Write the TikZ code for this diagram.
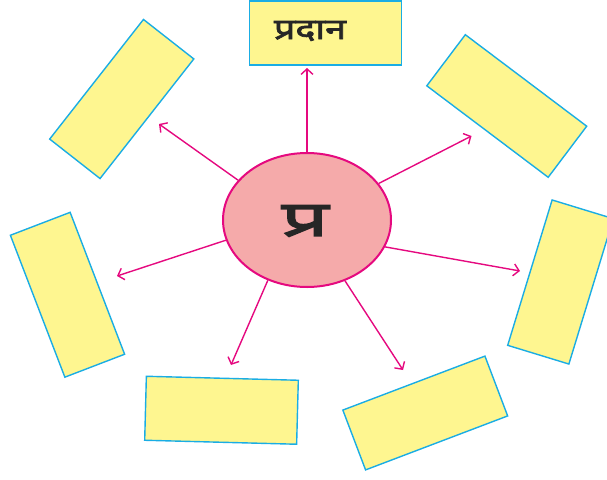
\documentclass[tikz,border=0pt]{standalone}
\usepackage{fontspec}
\newfontfamily\deva[Script=Devanagari,FakeBold=2.5,FakeStretch=1.3]{Noto Sans}
\newfontfamily\devawide[Script=Devanagari,FakeBold=3,FakeStretch=1.7]{Noto Sans}
\usetikzlibrary{arrows.meta,shapes.geometric}
\definecolor{boxfill}{HTML}{FEF690}
\definecolor{boxline}{HTML}{1AADE4}
\definecolor{ellfill}{HTML}{F5AAAA}
\definecolor{mag}{HTML}{E5097F}
\begin{document}
\begin{tikzpicture}[x=1pt,y=-1pt,
  ybox/.style={draw=boxline,fill=boxfill,line width=1.4pt,inner sep=0pt,outer sep=0pt,
    minimum width=152pt,minimum height=64pt},
  arr/.style={draw=mag,line width=1.4pt,-{Straight Barb[length=5.5pt,width=12pt,line width=1.4pt]}}]
\useasboundingbox (0,0) rectangle (607,479);
\clip (0,0) rectangle (607,479);
% boxes
\node[ybox] (btop) at (325.5,33) {};
\node[ybox,rotate=51.9] (btl) at (121.75,99) {};
\node[ybox,rotate=-37] (btr) at (506.75,106) {};
\node[ybox,rotate=-69] (bl) at (67.5,294.75) {};
\node[ybox,rotate=73] (br) at (560.5,282) {};
\node[ybox,rotate=-1.5] (bbl) at (221.5,410.25) {};
\node[ybox,rotate=20.8] (bbr) at (425.25,413) {};
\node[font=\deva\fontsize{29}{32}\selectfont,text=black!85] (word) at (310,31) {प्रदान};
% centre
\node[ellipse,draw=mag,fill=ellfill,line width=2pt,minimum width=168pt,minimum height=134pt,inner sep=0pt] (c) at (307,220) {};
\node[font=\devawide\fontsize{49}{52}\selectfont,text=black!85] (pra) at (305,221) {प्र};
% arrow ends
\coordinate (t1) at (307,68);
\coordinate (t2) at (159,124);
\coordinate (t3) at (471.5,136);
\coordinate (t4) at (117,276);
\coordinate (t5) at (520,271);
\coordinate (t6) at (231,365);
\coordinate (t7) at (403,370);
\draw[arr] (c.90) -- (t1);
\draw[arr] (c.150) -- (t2);
\draw[arr] (c.27) -- (t3);
\draw[arr] (c.194) -- (t4);
\draw[arr] (c.341) -- (t5);
\draw[arr] (c.237.6) -- (t6);
\draw[arr] (c.302.4) -- (t7);
\end{tikzpicture}
\end{document}
